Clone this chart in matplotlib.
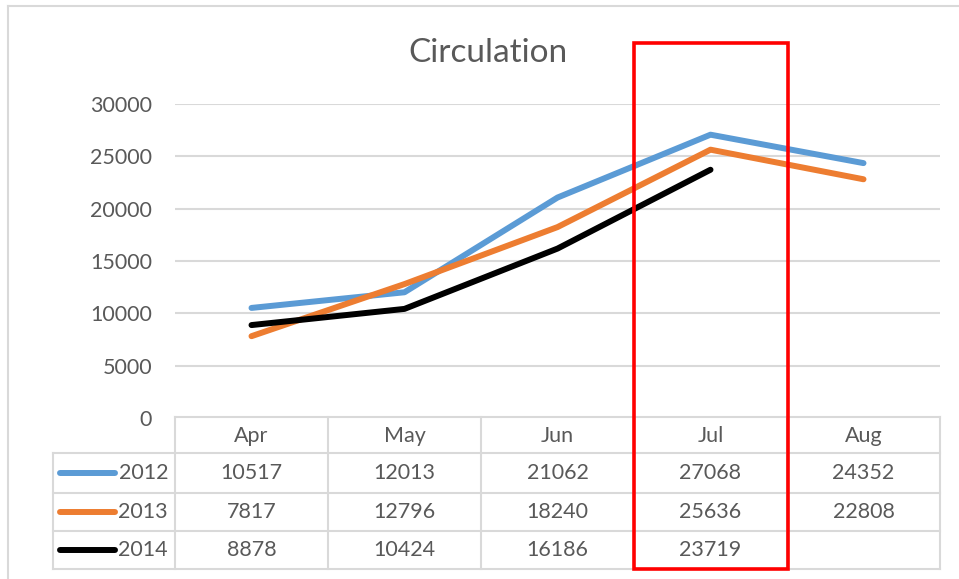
import numpy as np
import matplotlib
matplotlib.use("Agg")
import matplotlib.pyplot as plt
from matplotlib.lines import Line2D
from matplotlib.patches import Rectangle
from matplotlib.transforms import blended_transform_factory

plt.rcParams['font.family'] = ['Lato', 'DejaVu Sans']

# ---- data ----
months = ["Apr", "May", "Jun", "Jul", "Aug"]
series_names = ["2012", "2013", "2014"]
vals_2012 = [10517, 12013, 21062, 27068, 24352]
vals_2013 = [7817, 12796, 18240, 25636, 22808]
vals_2014 = [8878, 10424, 16186, 23719, np.nan]
colors = ["#5B9BD5", "#ED7D31", "#000000"]
title = "Circulation"
yticks = [0, 5000, 10000, 15000, 20000, 25000, 30000]

all_vals = [vals_2012, vals_2013, vals_2014]

W, H = 959, 579
fig = plt.figure(figsize=(W / 100, H / 100), dpi=100)
fx = lambda px: px / W
fy = lambda py: 1 - py / H

TXT = "#595959"
GRID = "#D9D9D9"
FS = 15.5

ax = fig.add_axes([fx(175), fy(418), fx(940) - fx(175), fy(104) - fy(418)])
ax.set_xlim(-0.5, len(months) - 0.5)
ax.set_ylim(0, 30000)
for s in ax.spines.values():
    s.set_visible(False)
ax.set_xticks([])
ax.set_yticks(yticks)
ax.set_yticklabels([str(t) for t in yticks], fontsize=FS, color=TXT)
ax.tick_params(axis='y', length=0, pad=16.5)
ax.yaxis.grid(True, color=GRID, linewidth=1.5)
ax.set_axisbelow(True)

x = np.arange(len(months))
for vals, c in zip(all_vals, colors):
    ax.plot(x, vals, color=c, linewidth=4.3, solid_capstyle='round',
            solid_joinstyle='round', zorder=3)

fig.text(fx(488), fy(53), title, ha='center', va='center', fontsize=24, color=TXT)

# ---- data table ----
tr = blended_transform_factory(ax.transData, fig.transFigure)
row_edges = [417, 453, 493, 531, 569]
col_edges = np.arange(len(months) + 1) - 0.5
ax.add_line(Line2D([col_edges[0], col_edges[-1]], [fy(row_edges[0])] * 2,
                   transform=tr, color=GRID, lw=1.5, clip_on=False))
for ry in row_edges[1:]:
    fig.add_artist(Line2D([fx(53), fx(940)], [fy(ry)] * 2, color=GRID, lw=1.5))
for ce in col_edges:
    ax.add_line(Line2D([ce, ce], [fy(row_edges[0]), fy(row_edges[-1])],
                       transform=tr, color=GRID, lw=1.5, clip_on=False))
fig.add_artist(Line2D([fx(53), fx(53)], [fy(row_edges[1]), fy(row_edges[-1])],
                      color=GRID, lw=1.5))

for i, m in enumerate(months):
    ax.text(i, fy((row_edges[0] + row_edges[1]) / 2 + 1), m, transform=tr,
            ha='center', va='center', fontsize=FS, color=TXT)
for r, (name, vals, c) in enumerate(zip(series_names, all_vals, colors)):
    cy = fy((row_edges[r + 1] + row_edges[r + 2]) / 2)
    fig.add_artist(Line2D([fx(60), fx(115)], [cy, cy], color=c, lw=4.3,
                          solid_capstyle='round'))
    fig.text(fx(168), cy, name, ha='right', va='center', fontsize=FS, color=TXT)
    for i, v in enumerate(vals):
        if not np.isnan(v):
            ax.text(i, cy, f"{int(v)}", transform=tr, ha='center', va='center',
                    fontsize=FS, color=TXT)

# chart border (left and top visible)
fig.add_artist(Line2D([fx(8), fx(8)], [fy(6), 0], color=GRID, lw=1.5))
fig.add_artist(Line2D([fx(8), 1], [fy(6), fy(6)], color=GRID, lw=1.5))

# red highlight rectangle
fig.add_artist(Rectangle((fx(633.5), fy(568.5)), fx(788) - fx(633.5),
                         fy(42.5) - fy(568.5), transform=fig.transFigure,
                         fill=False, edgecolor="#FF0000", lw=2.6, zorder=10))

fig.savefig("out.png", dpi=100)
